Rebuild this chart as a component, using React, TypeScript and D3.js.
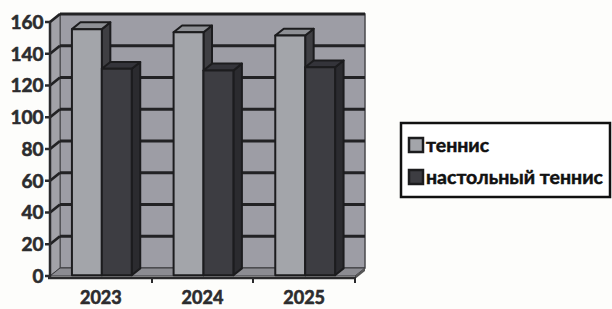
import { useEffect, useRef } from "react";
import * as d3 from "d3";

// chart data
const years = ["2023", "2024", "2025"];
const seriesNames = ["теннис", "настольный теннис"];
const tennis = [155, 153, 151];
const tableTennis = [130, 129, 131];
const yTicks = [0, 20, 40, 60, 80, 100, 120, 140, 160];

const W = 612;
const H = 309;
const DX = 10; // 3d depth offset
const DY = -8;

const frontFill = ["#a3a5aa", "#3d3d42"];
const sideFill = ["#3f3f43", "#2b2b2f"];
const topFill = ["#8e9095", "#34343a"];
const FONT = "Lato, 'Open Sans', sans-serif";

export default function App() {
  const ref = useRef<SVGSVGElement>(null);

  useEffect(() => {
    const svg = d3.select(ref.current);
    svg.selectAll("*").remove();

    const x = d3.scaleBand().domain(years).range([50, 355]).paddingInner(0).paddingOuter(0);
    const y = d3.scaleLinear().domain([0, 160]).range([276, 22]);
    const inner = d3.scaleBand().domain(seriesNames).range([0, x.bandwidth()]).paddingOuter(0.7).paddingInner(0);

    const poly = (pts: number[][]) => "M" + pts.map((p) => p.join(",")).join("L") + "Z";

    const g = svg.append("g");

    // back wall
    g.append("path")
      .attr("d", poly([[50 + DX, y(160) + DY], [355 + DX, y(160) + DY], [355 + DX, y(0) + DY], [50 + DX, y(0) + DY]]))
      .attr("fill", "#9d9da5")
      .attr("stroke", "#4a4a4e")
      .attr("stroke-width", 1.5);
    // left wall
    g.append("path")
      .attr("d", poly([[50, y(160)], [50 + DX, y(160) + DY], [50 + DX, y(0) + DY], [50, y(0)]]))
      .attr("fill", "#a2a2a8")
      .attr("stroke", "#4a4a4e")
      .attr("stroke-width", 1);

    // gridlines on back wall and left wall
    yTicks.filter((t) => t > 0).forEach((t) => {
      g.append("line")
        .attr("x1", 50 + DX).attr("x2", 355 + DX)
        .attr("y1", y(t) + DY).attr("y2", y(t) + DY)
        .attr("stroke", "#222224").attr("stroke-width", 2.8);
      g.append("line")
        .attr("x1", 50).attr("x2", 50 + DX)
        .attr("y1", y(t)).attr("y2", y(t) + DY)
        .attr("stroke", "#222224").attr("stroke-width", 2.8);
    });

    // floor
    g.append("path")
      .attr("d", poly([[50, y(0)], [355, y(0)], [355 + DX, y(0) + DY], [50 + DX, y(0) + DY]]))
      .attr("fill", "#8c8c92")
      .attr("stroke", "#3a3a3e")
      .attr("stroke-width", 1);
    g.append("path")
      .attr("d", poly([[355, y(0)], [355 + DX, y(0) + DY], [355 + DX, y(0) + DY + 3], [355, y(0) + 3]]))
      .attr("fill", "#555");

    // bars
    const z0 = 0.1;
    const z1 = 0.95;
    years.forEach((yr, i) => {
      [tennis[i], tableTennis[i]].forEach((v, s) => {
        const x0 = (x(yr) as number) + (inner(seriesNames[s]) as number) + DX * z0;
        const x1 = x0 + inner.bandwidth();
        const yt = y(v) + DY * z0;
        const yb = y(0) + DY * z0;
        const ddx = DX * (z1 - z0);
        const ddy = DY * (z1 - z0);
        const bar = g.append("g").attr("stroke", "#1c1c1e").attr("stroke-width", 2).attr("stroke-linejoin", "round");
        bar.append("path")
          .attr("d", poly([[x1, yt], [x1 + ddx, yt + ddy], [x1 + ddx, yb + ddy], [x1, yb]]))
          .attr("fill", sideFill[s]);
        bar.append("path")
          .attr("d", poly([[x0, yt], [x0 + ddx, yt + ddy], [x1 + ddx, yt + ddy], [x1, yt]]))
          .attr("fill", topFill[s]);
        bar.append("rect")
          .attr("x", x0).attr("y", yt)
          .attr("width", x1 - x0).attr("height", yb - yt)
          .attr("fill", frontFill[s]);
      });
    });

    // floor front edge / x axis
    g.append("line")
      .attr("x1", 48).attr("x2", 356)
      .attr("y1", y(0) + 2).attr("y2", y(0) + 2)
      .attr("stroke", "#2a2a2c").attr("stroke-width", 2.5);
    const xTickPos = [50, 152, 253, 355];
    xTickPos.forEach((px, i) => {
      if (i === 0) return;
      g.append("line")
        .attr("x1", px).attr("x2", px)
        .attr("y1", y(0) + 2).attr("y2", y(0) + 7)
        .attr("stroke", "#2a2a2c").attr("stroke-width", 2);
    });

    // y axis
    g.append("line")
      .attr("x1", 50).attr("x2", 50)
      .attr("y1", y(160)).attr("y2", y(0) + 3)
      .attr("stroke", "#2a2a2c").attr("stroke-width", 2.5);
    const yAxisG = g.append("g");
    yTicks.forEach((t) => {
      yAxisG.append("line")
        .attr("x1", 45).attr("x2", 50)
        .attr("y1", y(t)).attr("y2", y(t))
        .attr("stroke", "#2a2a2c").attr("stroke-width", 2.5);
      yAxisG.append("text")
        .attr("x", 43.5).attr("y", y(t))
        .attr("dy", "0.36em")
        .attr("text-anchor", "end")
        .attr("font-family", FONT)
        .attr("font-weight", 700)
        .attr("font-size", 19)
        .attr("fill", "#2c2c2e")
        .attr("stroke", "#2c2c2e").attr("stroke-width", 0.6)
        .text(t);
    });

    // x labels
    years.forEach((yr) => {
      g.append("text")
        .attr("x", (x(yr) as number) + x.bandwidth() / 2)
        .attr("y", 304)
        .attr("text-anchor", "middle")
        .attr("font-family", FONT)
        .attr("font-weight", 700)
        .attr("font-size", 18)
        .attr("fill", "#2c2c2e")
        .attr("stroke", "#2c2c2e").attr("stroke-width", 0.6)
        .text(yr);
    });

    // legend
    const lg = svg.append("g");
    lg.append("rect")
      .attr("x", 401).attr("y", 123).attr("width", 209).attr("height", 74)
      .attr("fill", "white").attr("stroke", "#111").attr("stroke-width", 2.5);
    seriesNames.forEach((name, s) => {
      const cy = 145 + s * 32;
      lg.append("rect")
        .attr("x", 409).attr("y", cy - 7).attr("width", 14).attr("height", 14)
        .attr("fill", frontFill[s]).attr("stroke", "#1c1c1e").attr("stroke-width", 2.5);
      lg.append("text")
        .attr("x", 426).attr("y", cy)
        .attr("dy", "0.36em")
        .attr("font-family", FONT)
        .attr("font-weight", 700)
        .attr("font-size", 19.5)
        .attr("fill", "#111")
        .attr("stroke", "#111").attr("stroke-width", 0.5)
        .text(name);
    });
  }, []);

  return (
    <svg
      ref={ref}
      width={W}
      height={H}
      style={{ position: "absolute", left: 0, top: 0, background: "#fdfdfb" }}
    />
  );
}
